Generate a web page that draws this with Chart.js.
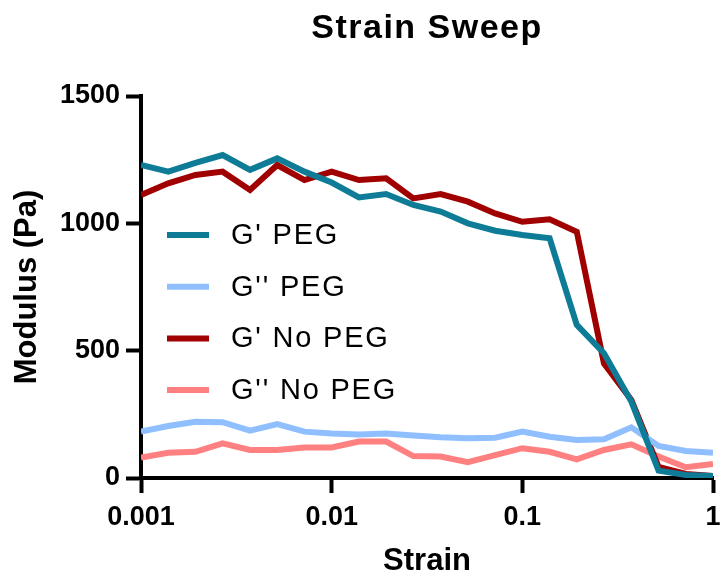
<!DOCTYPE html>
<html lang="en">
<head>
<meta charset="UTF-8" />
<title>Strain Sweep</title>
<script src="https://cdn.jsdelivr.net/npm/chart.js"></script>
<style>
  html, body { margin: 0; padding: 0; background: #fff; }
  canvas { display: block; }
</style>
</head>
<body>
<canvas id="chart" width="722" height="579"></canvas>
<script>
// strain values (log spaced, 7 per decade)
const strain = [0.001, 0.00139, 0.00193, 0.00268, 0.00373, 0.00518, 0.0072,
                0.01, 0.0139, 0.0193, 0.0268, 0.0373, 0.0518, 0.072,
                0.1, 0.139, 0.193, 0.268, 0.373, 0.518, 0.72, 1];

const gPrimePeg = [1229, 1203, 1237, 1268, 1210, 1255, 1203, 1160, 1102, 1115, 1072,
                   1046, 1000, 971, 954, 941, 601, 490, 300, 29, 12, 8];
const gDoublePeg = [182, 204, 221, 219, 186, 212, 182, 175, 171, 175, 167,
                    160, 156, 158, 182, 162, 149, 152, 199, 126, 106, 99];
const gPrimeNoPeg = [1111, 1157, 1190, 1203, 1131, 1229, 1170, 1203, 1170, 1177, 1098,
                     1115, 1085, 1039, 1006, 1016, 967, 450, 306, 44, 16, 8];
const gDoubleNoPeg = [80, 99, 103, 136, 110, 110, 120, 120, 143, 143, 86,
                      84, 62, 90, 117, 103, 73, 110, 132, 84, 42, 55];

const xTicks = [0.001, 0.01, 0.1, 1];
const yTicks = [0, 500, 1000, 1500];

const FONT = '"Liberation Sans", Arial, Helvetica, sans-serif';

function series(label, values, color) {
  return {
    label,
    data: strain.map((x, i) => ({ x, y: values[i] })),
    borderColor: color,
    backgroundColor: color,
    borderWidth: 6,
    pointRadius: 0,
    tension: 0,
    fill: false
  };
}

// title over the plot area + legend inside it
const overlay = {
  id: 'overlay',
  afterDraw(chart) {
    const { ctx, chartArea } = chart;
    ctx.save();
    ctx.fillStyle = '#000';
    ctx.font = 'bold 34px ' + FONT;
    ctx.letterSpacing = '1.5px';
    ctx.textAlign = 'center';
    ctx.textBaseline = 'middle';
    ctx.fillText('Strain Sweep', (chartArea.left + chartArea.right) / 2, 29);

    ctx.font = '29px ' + FONT;
    ctx.letterSpacing = '1.8px';
    ctx.textAlign = 'left';
    chart.data.datasets.forEach((ds, i) => {
      const y = 235 + i * 51.7;
      ctx.strokeStyle = ds.borderColor;
      ctx.lineWidth = 6;
      ctx.beginPath();
      ctx.moveTo(167, y);
      ctx.lineTo(209, y);
      ctx.stroke();
      ctx.fillText(ds.label, 231, y + 1);
    });
    ctx.restore();
  }
};

new Chart(document.getElementById('chart'), {
  type: 'line',
  data: {
    datasets: [
      series("G' PEG", gPrimePeg, '#0E7C96'),
      series("G'' PEG", gDoublePeg, '#8FBFFF'),
      series("G' No PEG", gPrimeNoPeg, '#A00000'),
      series("G'' No PEG", gDoubleNoPeg, '#FF8080')
    ]
  },
  options: {
    responsive: false,
    animation: false,
    layout: { padding: { top: 96, right: 0, left: 0, bottom: 0 } },
    plugins: {
      legend: { display: false },
      title: { display: false },
      tooltip: { enabled: false }
    },
    scales: {
      x: {
        type: 'logarithmic',
        min: 0.001,
        max: 1,
        afterBuildTicks: s => { s.ticks = xTicks.map(v => ({ value: v })); },
        afterFit: s => { s.height = 101; s.paddingRight = 9; },
        border: { display: true, color: '#000', width: 4 },
        grid: { drawOnChartArea: false, drawTicks: true, tickLength: 15, tickWidth: 4, color: '#000' },
        ticks: {
          autoSkip: false,
          maxRotation: 0,
          padding: 8,
          color: '#000',
          font: { family: FONT, size: 27, weight: 'bold' },
          callback: v => String(v)
        },
        title: {
          display: true,
          text: 'Strain',
          color: '#000',
          font: { family: FONT, size: 31, weight: 'bold' },
          padding: { top: 0, bottom: -1 }
        }
      },
      y: {
        min: 0,
        max: 1500,
        afterBuildTicks: s => { s.ticks = yTicks.map(v => ({ value: v })); },
        afterFit: s => { s.width = 141; },
        border: { display: true, color: '#000', width: 4 },
        grid: { drawOnChartArea: false, drawTicks: true, tickLength: 15, tickWidth: 4, color: '#000' },
        ticks: {
          padding: 6,
          color: '#000',
          font: { family: FONT, size: 27, weight: 'bold' },
          callback: v => String(v)
        },
        title: {
          display: true,
          text: 'Modulus (Pa)',
          color: '#000',
          font: { family: FONT, size: 31, weight: 'bold' },
          padding: { top: 9, bottom: 0 }
        }
      }
    }
  },
  plugins: [overlay]
});
</script>
</body>
</html>
